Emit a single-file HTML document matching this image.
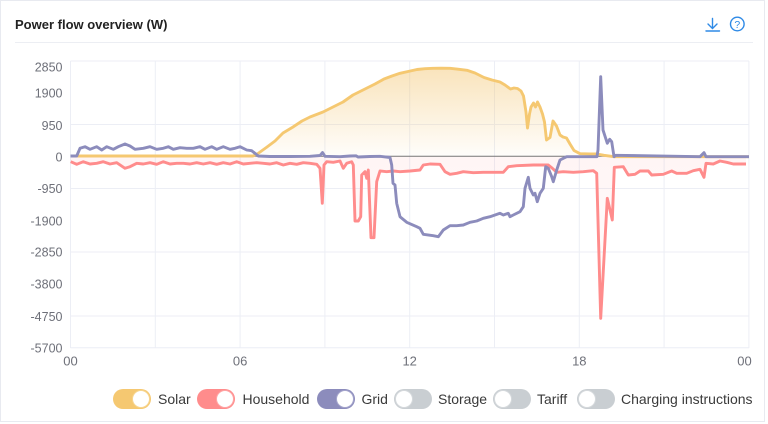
<!DOCTYPE html>
<html>
<head>
<meta charset="utf-8">
<style>
  html,body{margin:0;padding:0;background:#fff;}
  body{width:768px;height:424px;overflow:hidden;position:relative;font-family:"Liberation Sans",sans-serif;}
  .card{position:absolute;left:0;top:0;width:765px;height:422px;border:1px solid #e8eaf0;box-sizing:border-box;background:#fff;}
  .title{position:absolute;left:15px;top:16px;font-size:13px;font-weight:bold;color:#222;line-height:18px;}
  .sep{position:absolute;left:15px;top:42px;width:738px;height:1px;background:#eceef3;}
  .tg{position:absolute;top:389px;width:38px;height:20px;border-radius:10px;box-sizing:border-box;}
  .kn{position:absolute;top:1px;width:18px;height:18px;border-radius:50%;background:#fff;box-sizing:border-box;}
  .lt{position:absolute;top:390px;font-size:14px;color:#3a3a3a;line-height:18px;white-space:nowrap;}
</style>
</head>
<body>
<div class="card"></div>
<div class="title">Power flow overview (W)</div>
<div class="sep"></div>

<svg width="768" height="424" style="position:absolute;left:0;top:0" xmlns="http://www.w3.org/2000/svg">
  <defs>
    <linearGradient id="gs" x1="0" y1="68" x2="0" y2="156" gradientUnits="userSpaceOnUse">
      <stop offset="0" stop-color="rgb(242,194,105)" stop-opacity="0.45"/>
      <stop offset="1" stop-color="rgb(242,194,105)" stop-opacity="0.03"/>
    </linearGradient>
    <linearGradient id="gh" x1="0" y1="156" x2="0" y2="318" gradientUnits="userSpaceOnUse">
      <stop offset="0" stop-color="rgb(255,140,140)" stop-opacity="0.09"/>
      <stop offset="1" stop-color="rgb(255,140,140)" stop-opacity="0.01"/>
    </linearGradient>
  </defs>

  <!-- icons -->
  <g stroke="#2f8ae6" fill="none" stroke-width="1.4" stroke-linecap="round">
    <line x1="712.5" y1="18.5" x2="712.5" y2="28"/>
    <polyline points="708,24 712.5,28.5 717,24"/>
    <line x1="706" y1="31" x2="719.5" y2="31"/>
    <circle cx="737.3" cy="24" r="6.8"/>
  </g>
  <text x="737.3" y="28" text-anchor="middle" font-size="10.5" font-family="Liberation Sans, sans-serif" fill="#2f8ae6">?</text>

  <!-- grid -->
  <g stroke="#eceef5" stroke-width="1">
    <line x1="70.5" y1="61" x2="749" y2="61"/>
    <line x1="70.5" y1="124.5" x2="749" y2="124.5"/>
    <line x1="70.5" y1="188.5" x2="749" y2="188.5"/>
    <line x1="70.5" y1="252" x2="749" y2="252"/>
    <line x1="70.5" y1="316" x2="749" y2="316"/>
    <line x1="70.5" y1="347.8" x2="749" y2="347.8"/>
    <line x1="70.5" y1="61" x2="70.5" y2="348"/>
    <line x1="155.3" y1="61" x2="155.3" y2="348"/>
    <line x1="240.1" y1="61" x2="240.1" y2="348"/>
    <line x1="324.9" y1="61" x2="324.9" y2="348"/>
    <line x1="409.7" y1="61" x2="409.7" y2="348"/>
    <line x1="494.5" y1="61" x2="494.5" y2="348"/>
    <line x1="579.3" y1="61" x2="579.3" y2="348"/>
    <line x1="664.1" y1="61" x2="664.1" y2="348"/>
    <line x1="748.9" y1="61" x2="748.9" y2="348"/>
  </g>

  <!-- y labels -->
  <g font-family="Liberation Sans, sans-serif" font-size="12.5" fill="#6e7079" text-anchor="end">
    <text x="62.5" y="71.5">2850</text>
    <text x="62.5" y="97.5">1900</text>
    <text x="62.5" y="130">950</text>
    <text x="62.5" y="161.5">0</text>
    <text x="62.5" y="193">-950</text>
    <text x="62.5" y="225.5">-1900</text>
    <text x="62.5" y="256.5">-2850</text>
    <text x="62.5" y="288.5">-3800</text>
    <text x="62.5" y="321">-4750</text>
    <text x="62.5" y="352.5">-5700</text>
  </g>
  <!-- x labels -->
  <g font-family="Liberation Sans, sans-serif" font-size="13" fill="#6e7079" text-anchor="middle">
    <text x="70.5" y="365.5">00</text>
    <text x="240.1" y="365.5">06</text>
    <text x="409.7" y="365.5">12</text>
    <text x="579.3" y="365.5">18</text>
    <text x="744.5" y="365.5">00</text>
  </g>

  <!-- solar area -->
  <path fill="url(#gs)" d="M253,156 L258,153.5 L267,147 L275,141 L283,133 L293,127 L302,121 L310,117 L323,112 L333,107 L343,102 L353,95 L360,91.5 L367,88 L375,84 L384,79 L392,76 L400,73.3 L408,71.5 L417,69.5 L425,68.7 L433,68.3 L441,68.2 L450,68.3 L458,69.2 L467,70.3 L475,73 L484,77.5 L492,80 L500,82 L505,85 L510.5,89 L514,88 L517.5,88.5 L521,91 L523.5,96 L526,112 L527.5,128 L529.5,114 L531,107 L533.5,103 L535.5,107 L537.5,102 L540,107 L542.5,114 L544.5,122 L546.5,140 L550,137.5 L553,121 L556.5,126 L560,135 L563,137 L566.5,138 L570,144 L574,150.5 L580,153.7 L590,154 L597,154 L604,155.3 L614,156.5 Z"/>
  <!-- household area -->
  <path fill="url(#gh)" d="M70.7,156 L70.7,161.7 L76.7,164.3 L83.3,161.7 L90,164 L96.7,163.3 L103.3,161.7 L110,164 L116.7,162.7 L125,168.3 L130,166.7 L136.7,163.3 L143.3,164 L150,162.7 L156.7,164.3 L163.3,161.7 L170,164 L176.7,163.3 L183.3,163.3 L190,164 L196.7,162.7 L203.3,164 L210,162.7 L216.7,164.3 L223.3,162.7 L230,164 L236.7,161.7 L243.3,164 L250,163.3 L256.7,162.7 L263.3,163.3 L270,164 L276.7,162.7 L283.3,165 L290,163.3 L296.7,164.3 L303.3,162.7 L310,163.3 L316.7,164.3 L320,168.3 L322.3,203.3 L324,165 L326.7,161.7 L333.3,162.3 L340,161 L343.3,168.3 L346.7,163.3 L351.7,161.7 L353.3,165 L355,221 L358.3,221 L360.7,216.7 L361.7,175 L365,171.7 L366.7,178.3 L368.3,170 L371,237.7 L374,237.7 L376.7,181.7 L380,171 L386.7,171.7 L393.3,171 L400,171.7 L410,171 L420,170 L423.3,165 L430,164 L440,164.3 L445,171.7 L450,174.3 L456.7,173.3 L463.3,171.7 L473.3,172.7 L483.3,172.3 L493.3,172.3 L503.3,172.3 L508.3,166.7 L516.7,165.7 L533.3,165 L543.3,165 L548.3,165 L551.7,167.7 L556.7,172.3 L563.3,171.7 L573.3,172.3 L583.3,171.7 L593.3,170.7 L596.7,173.3 L600.7,318.3 L607.3,198.3 L612.3,220 L614.3,167.3 L623.3,166.7 L628.3,175 L635,174.3 L640,171 L648.3,171 L651.7,175 L663.3,174.3 L671.7,171 L676.7,173.3 L686.7,173.3 L693.3,170.7 L700,169.3 L704,177.3 L706,163.3 L713.3,164 L720,161 L726.7,162.3 L733.3,164 L746,164 L746,156 Z"/>

  <!-- zero line -->
  <line x1="70.5" y1="156.2" x2="749" y2="156.2" stroke="#777" stroke-width="1"/>

  <!-- solar line -->
  <polyline fill="none" stroke="#f5c871" stroke-width="2.9" stroke-linejoin="round" points="70.5,156 253,156 258,153.5 267,147 275,141 283,133 293,127 302,121 310,117 323,112 333,107 343,102 353,95 360,91.5 367,88 375,84 384,79 392,76 400,73.3 408,71.5 417,69.5 425,68.7 433,68.3 441,68.2 450,68.3 458,69.2 467,70.3 475,73 484,77.5 492,80 500,82 505,85 510.5,89 514,88 517.5,88.5 521,91 523.5,96 526,112 527.5,128 529.5,114 531,107 533.5,103 535.5,107 537.5,102 540,107 542.5,114 544.5,122 546.5,140 550,137.5 553,121 556.5,126 560,135 563,137 566.5,138 570,144 574,150.5 580,153.7 590,154 597,154 604,155.3 614,156.7 749,156.7"/>

  <!-- household line -->
  <polyline fill="none" stroke="#ff8c8c" stroke-width="2.9" stroke-linejoin="round" points="70.7,161.7 76.7,164.3 83.3,161.7 90,164 96.7,163.3 103.3,161.7 110,164 116.7,162.7 125,168.3 130,166.7 136.7,163.3 143.3,164 150,162.7 156.7,164.3 163.3,161.7 170,164 176.7,163.3 183.3,163.3 190,164 196.7,162.7 203.3,164 210,162.7 216.7,164.3 223.3,162.7 230,164 236.7,161.7 243.3,164 250,163.3 256.7,162.7 263.3,163.3 270,164 276.7,162.7 283.3,165 290,163.3 296.7,164.3 303.3,162.7 310,163.3 316.7,164.3 320,168.3 322.3,203.3 324,165 326.7,161.7 333.3,162.3 340,161 343.3,168.3 346.7,163.3 351.7,161.7 353.3,165 355,221 358.3,221 360.7,216.7 361.7,175 365,171.7 366.7,178.3 368.3,170 371,237.7 374,237.7 376.7,181.7 380,171 386.7,171.7 393.3,171 400,171.7 410,171 420,170 423.3,165 430,164 440,164.3 445,171.7 450,174.3 456.7,173.3 463.3,171.7 473.3,172.7 483.3,172.3 493.3,172.3 503.3,172.3 508.3,166.7 516.7,165.7 533.3,165 543.3,165 548.3,165 551.7,167.7 556.7,172.3 563.3,171.7 573.3,172.3 583.3,171.7 593.3,170.7 596.7,173.3 600.7,318.3 607.3,198.3 612.3,220 614.3,167.3 623.3,166.7 628.3,175 635,174.3 640,171 648.3,171 651.7,175 663.3,174.3 671.7,171 676.7,173.3 686.7,173.3 693.3,170.7 700,169.3 704,177.3 706,163.3 713.3,164 720,161 726.7,162.3 733.3,164 746,164"/>

  <!-- grid line -->
  <polyline fill="none" stroke="#8c8cbc" stroke-width="2.9" stroke-linejoin="round" points="70.5,156 76.7,156 80,148.3 85,146.7 90,149.3 96.7,146.7 101.7,150 106.7,146.7 113.3,149.3 118.3,146.7 125,144 130,146 135,149.3 143.3,148.3 150,146.7 156.7,149.3 163.3,148.3 168.3,146.7 173.3,149.3 180,147.7 186.7,148.3 193.3,148.3 200,146.7 205,149.3 211.7,146.7 216.7,149.3 223.3,146.7 230,149.3 235,148.3 240,146.7 246.7,150 251.7,150.7 258.3,156 270,156.5 290,156.5 310,156.3 320,155.5 322.5,152.5 325,156.3 340,156.7 350,156 356,155.8 358,157 370,156.5 380,156.3 390,157.5 391.7,165 393,183.3 395,185 396.7,203.3 400,216.7 406.7,222.3 416.7,226.7 420,228.3 423.3,234.3 433.3,235.7 438.3,236.7 443.3,230 450,225.7 456.7,225.7 463.3,225 470,222.3 476.7,221 483.3,218.3 490,216.7 500,213.3 503.3,215 508.3,213.3 510,216.7 513.3,215 520,211.7 523.3,206.7 525,188.3 528.3,177.3 530,188.3 533.3,195 535,193.3 537.3,201.7 540,193.3 543.3,188.3 545.7,166.7 548.3,168.3 551.7,176.7 553.3,181.7 556.7,170 560,160 563.3,158.3 566.7,156.7 597,156.7 598,150 600.7,76.7 603,130 607.3,143.3 609.7,139.3 611.7,141.7 614,156.7 615.7,155.3 700,156.7 704,152.7 706,156.7 749,156.7"/>
</svg>

<!-- legend -->
<div class="tg" style="left:113px;background:#f5c871;"><div class="kn" style="right:1px;border:1px solid #f7d58f;"></div></div>
<div class="lt" style="left:158px;">Solar</div>
<div class="tg" style="left:197px;background:#ff8c8c;"><div class="kn" style="right:1px;border:1px solid #ffa5a5;"></div></div>
<div class="lt" style="left:242.5px;">Household</div>
<div class="tg" style="left:316.5px;background:#8c8cbc;"><div class="kn" style="right:1px;border:1px solid #a5a5cc;"></div></div>
<div class="lt" style="left:361.5px;">Grid</div>
<div class="tg" style="left:394px;background:#c9ced2;"><div class="kn" style="left:1px;border:1px solid #d5d9dc;"></div></div>
<div class="lt" style="left:438px;">Storage</div>
<div class="tg" style="left:493px;background:#c9ced2;"><div class="kn" style="left:1px;border:1px solid #d5d9dc;"></div></div>
<div class="lt" style="left:537px;">Tariff</div>
<div class="tg" style="left:576.5px;background:#c9ced2;"><div class="kn" style="left:1px;border:1px solid #d5d9dc;"></div></div>
<div class="lt" style="left:621px;">Charging instructions</div>
</body>
</html>
